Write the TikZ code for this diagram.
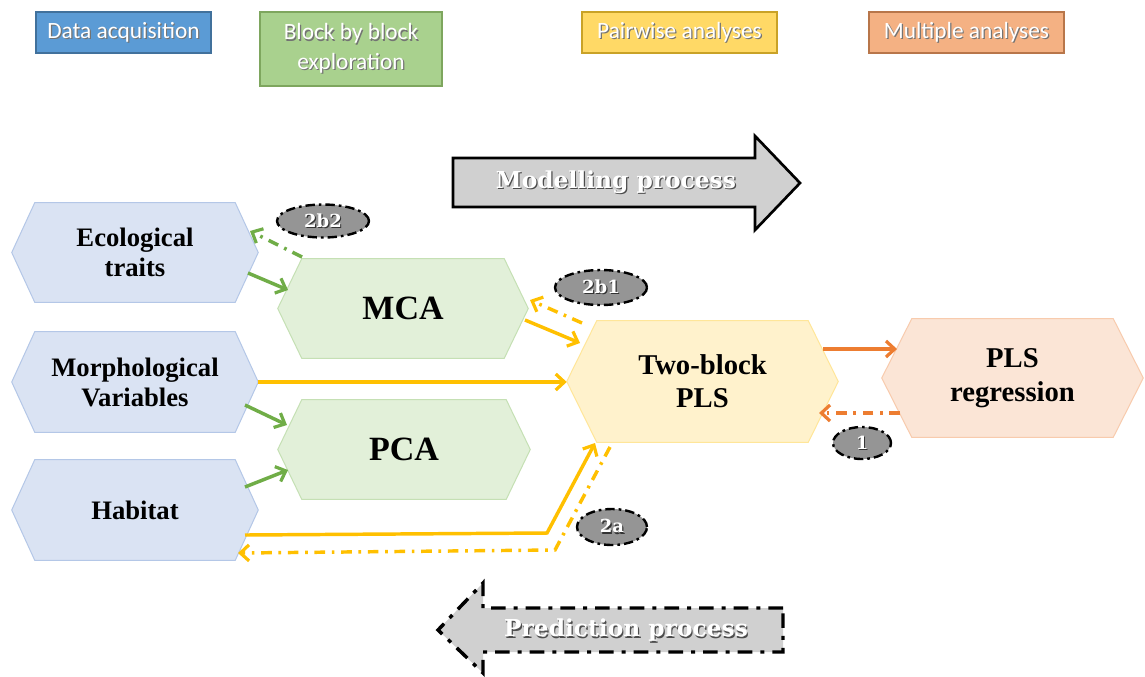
\documentclass[tikz,border=0pt]{standalone}
\usepackage{fontspec}
\setmainfont{Liberation Serif}
\newfontfamily\hdfont{Carlito}
\newfontfamily\dvfont{DejaVu Serif}
\usetikzlibrary{arrows.meta,backgrounds,calc,shapes.geometric}
\definecolor{hblue}{HTML}{5B9BD5}\definecolor{hblueD}{HTML}{41719C}
\definecolor{hgreen}{HTML}{A9D18E}\definecolor{hgreenD}{HTML}{7EA65E}
\definecolor{hyel}{HTML}{FFD966}\definecolor{hyelD}{HTML}{C9A227}
\definecolor{hora}{HTML}{F4B183}\definecolor{horaD}{HTML}{B8764A}
\definecolor{lblue}{HTML}{DAE3F3}\definecolor{lblueD}{HTML}{B4C7E7}
\definecolor{lgreen}{HTML}{E2F0D9}\definecolor{lgreenD}{HTML}{C5E0B4}
\definecolor{lyel}{HTML}{FFF2CC}\definecolor{lyelD}{HTML}{FFE699}
\definecolor{lora}{HTML}{FBE5D6}\definecolor{loraD}{HTML}{F8CBAD}
\definecolor{agreen}{HTML}{70AD47}
\definecolor{ayel}{HTML}{FFC000}
\definecolor{aora}{HTML}{ED7D31}
\definecolor{ellg}{HTML}{959595}
\definecolor{arrg}{HTML}{D0D0D0}
\newcommand\shtxt[2][black!55]{\leavevmode\rlap{\kern0.9pt\raisebox{-0.9pt}{\textcolor{#1}{#2}}}#2}
\newcommand\hexbox[9]{%
  \node[#8, minimum width=#4*0.75pt, minimum height=#5*0.75pt] (#1) at (#2,#3) {#9};
  \begin{scope}[on background layer]
    \path[#7] (#1.west) -- ([xshift=#6*0.75pt]#1.north west) -- ([xshift=-#6*0.75pt]#1.north east)
      -- (#1.east) -- ([xshift=-#6*0.75pt]#1.south east) -- ([xshift=#6*0.75pt]#1.south west) -- cycle;
  \end{scope}}
\tikzset{
  hdr/.style={inner sep=0pt, text=white, font=\hdfont\fontsize{17.5}{20}\selectfont, align=center, line width=0.9pt},
  hexfont/.style={inner sep=0pt, align=center, font=\bfseries\fontsize{20}{22.5}\selectfont},
  hexfontM/.style={inner sep=0pt, align=center, font=\bfseries\fontsize{21.5}{25}\selectfont},
  hexfontL/.style={inner sep=0pt, align=center, font=\bfseries\fontsize{25.5}{28}\selectfont},
  hblueS/.style={fill=lblue, draw=lblueD, line width=0.75pt},
  hgreenS/.style={fill=lgreen, draw=lgreenD, line width=0.75pt},
  hyelS/.style={fill=lyel, draw=lyelD, line width=0.75pt},
  horaS/.style={fill=lora, draw=loraD, line width=0.75pt},
  conn/.style={line width=2.6pt, -{Straight Barb[length=6.5pt,width=12pt,line width=2.4pt]}},
  dashdot/.style={dash pattern=on 8pt off 5pt on 2pt off 5pt},
  lab/.style={ellipse, inner sep=0pt, fill=ellg, draw=black, line width=1.8pt,
    dash pattern=on 7pt off 3pt on 2pt off 3pt, text=white,
    font=\dvfont\bfseries\fontsize{13.5}{15}\selectfont},
  bigarr/.style={fill=arrg, draw=black},
  bigtext/.style={inner sep=0pt, text=white, font=\dvfont\bfseries\fontsize{17.5}{20}\selectfont},
}
\begin{document}
\begin{tikzpicture}[x=0.75pt,y=-0.75pt]
\useasboundingbox (0,0) rectangle (1145,676);
\begin{scope}[on background layer]
\fill[white] (0,0) rectangle (1145,676);
\end{scope}
% headers
\node[hdr, fill=hblue, draw=hblueD, minimum width=175*0.75pt, minimum height=41*0.75pt] (h1) at (123.5,32.5) {\shtxt{Data acquisition}};
\node[hdr, fill=hgreen, draw=hgreenD, minimum width=182*0.75pt, minimum height=74*0.75pt] (h2) at (351,49) {\shtxt{Block by block}\\[2pt]\shtxt{exploration}};
\node[hdr, fill=hyel, draw=hyelD, minimum width=195*0.75pt, minimum height=41*0.75pt] (h3) at (679.5,32.5) {\shtxt{Pairwise analyses}};
\node[hdr, fill=hora, draw=horaD, minimum width=195*0.75pt, minimum height=41*0.75pt] (h4) at (966.5,32.5) {\shtxt{Multiple analyses}};
% process arrows
\path[bigarr, line width=2pt] (453,158) -- (755,158) -- (755,136) -- (800,183) -- (755,230) -- (755,207) -- (453,207) -- cycle;
\node[bigtext] (modt) at (616,183) {\shtxt[black!70]{Modelling process}};
\path[bigarr, line width=2.6pt, dash pattern=on 11pt off 6pt on 3pt off 6pt] (783,608) -- (483,608) -- (483,583) -- (438,630) -- (483,673) -- (483,652) -- (783,652) -- cycle;
\node[bigtext] (predt) at (626,631) {\shtxt[black!70]{Prediction process}};
% hexagons
\hexbox{eco}{135}{252.5}{246}{99}{23}{hblueS}{hexfont}{Ecological\\traits}
\hexbox{morph}{135}{382}{246}{100}{23}{hblueS}{hexfont}{Morphological\\Variables}
\hexbox{hab}{135}{510}{246}{100}{23}{hblueS}{hexfont}{Habitat}
\hexbox{mca}{403}{308.5}{250}{99}{24}{hgreenS}{hexfontL}{MCA}
\hexbox{pca}{404}{449.5}{252}{99}{24}{hgreenS}{hexfontL}{PCA}
\hexbox{tb}{702.5}{381.5}{271}{121}{30}{hyelS}{hexfontM}{Two-block\\PLS}
\hexbox{plsr}{1012.5}{378}{261}{118}{30}{horaS}{hexfontM}{PLS\\regression}
% connectors
\draw[conn, agreen] ([shift={(113,20.5)}]eco.center) -- ([shift={(-115,-18.5)}]mca.center);
\draw[conn, agreen, dashdot] ([shift={(-101,-51.5)}]mca.center) -- ([shift={(115,-21.5)}]eco.center);
\draw[conn, agreen] ([shift={(110,23)}]morph.center) -- ([shift={(-117,-24.5)}]pca.center);
\draw[conn, agreen] ([shift={(110,-23)}]hab.center) -- ([shift={(-116,20.5)}]pca.center);
\draw[conn, ayel] ([shift={(122,11.5)}]mca.center) -- ([shift={(-122.5,-38.5)}]tb.center);
\draw[conn, ayel, dashdot] ([shift={(-120.5,-58.5)}]tb.center) -- ([shift={(127,-8.5)}]mca.center);
\draw[conn, ayel] (morph.east) -- (morph.east -| tb.west);
\draw[conn, ayel] ([shift={(110,25)}]hab.center) -- ([shift={(412,23)}]hab.center) -- ([shift={(-107.5,61.5)}]tb.center);
\draw[conn, ayel, dashdot] ([shift={(-92.5,65.5)}]tb.center) -- ([shift={(420,40)}]hab.center) -- ([shift={(103,43)}]hab.center);
\draw[conn, aora] ([shift={(120.5,-32.5)}]tb.center) -- ([shift={(-115.5,-29)}]plsr.center);
\draw[conn, aora, dashdot] ([shift={(-112.5,35)}]plsr.center) -- ([shift={(116.5,31.5)}]tb.center);
% labels
\node[lab, minimum width=92*0.75pt, minimum height=33*0.75pt] (l2b2) at (323,221) {\shtxt[black!80]{2b2}};
\node[lab, minimum width=92*0.75pt, minimum height=35*0.75pt] (l2b1) at (601,287.5) {\shtxt[black!80]{2b1}};
\node[lab, minimum width=58*0.75pt, minimum height=32*0.75pt] (l1) at (862,443) {\shtxt[black!80]{1}};
\node[lab, minimum width=70*0.75pt, minimum height=36*0.75pt] (l2a) at (612,527) {\shtxt[black!80]{2a}};
\end{tikzpicture}
\end{document}
